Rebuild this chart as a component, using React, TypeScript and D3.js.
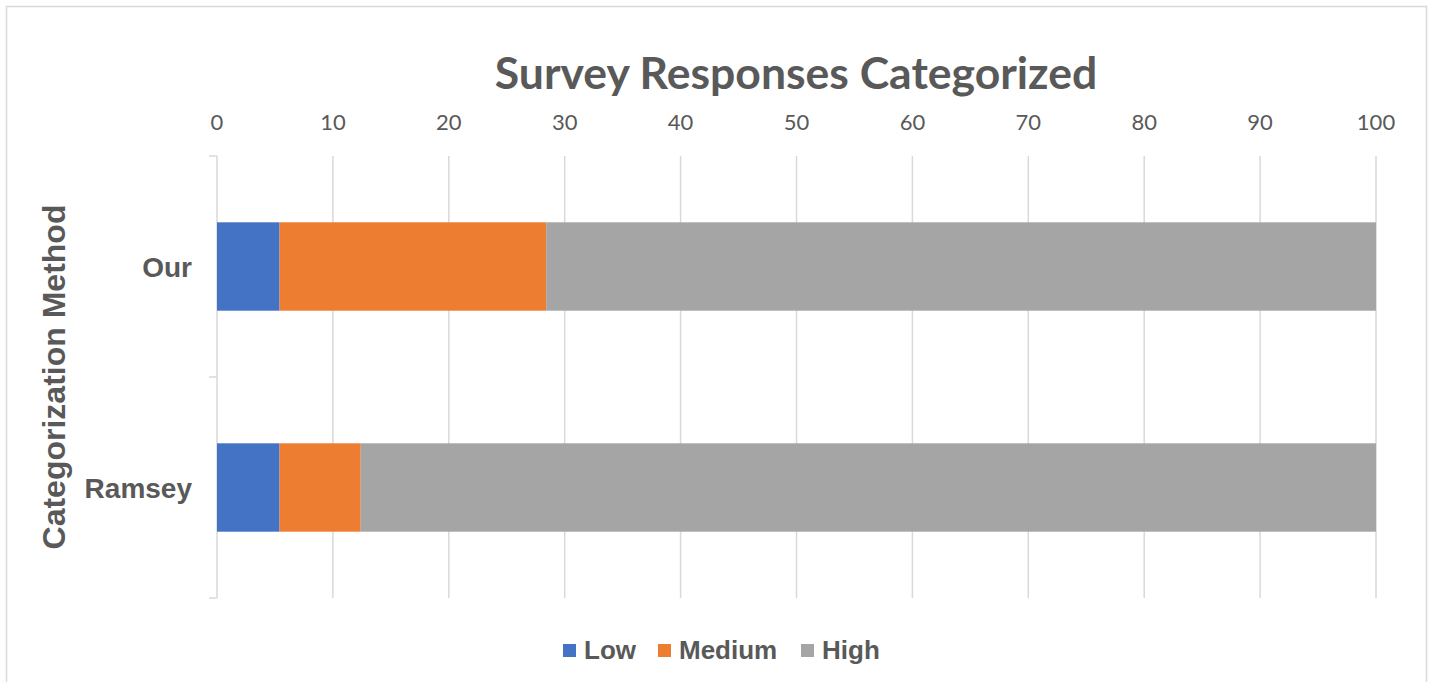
import React, { useEffect, useRef } from 'react';
import * as d3 from 'd3';

const methods = ['Our', 'Ramsey'];
const seriesNames = ['Low', 'Medium', 'High'];
const lowValues = [5.4, 5.4];
const mediumValues = [23.0, 7.0];
const highValues = [71.6, 87.6];
const xTicks = [0, 10, 20, 30, 40, 50, 60, 70, 80, 90, 100];
const seriesColors = ['#4472c4', '#ed7d31', '#a5a5a5'];

export default function App() {
  const svgRef = useRef<SVGSVGElement>(null);

  useEffect(() => {
    if (!svgRef.current) return;
    const svg = d3.select(svgRef.current);
    svg.selectAll('*').remove();

    const textColor = '#595959';
    const gridColor = '#d9d9d9';
    const plot = { left: 217, right: 1376, top: 156, bottom: 598 };

    // chart frame
    svg.append('rect')
      .attr('x', 6.5).attr('y', 6.5)
      .attr('width', 1420).attr('height', 690)
      .attr('fill', '#fff')
      .attr('stroke', gridColor)
      .attr('stroke-width', 1.5);

    const x = d3.scaleLinear().domain([0, 100]).range([plot.left, plot.right]);
    const y = d3.scaleBand<string>().domain(methods).range([plot.top, plot.bottom]).paddingInner(0.6).paddingOuter(0.3);
    const yOuter = d3.scaleBand<string>().domain(methods).range([plot.top, plot.bottom]);

    // gridlines
    svg.append('g')
      .selectAll('line')
      .data(xTicks)
      .join('line')
      .attr('x1', d => x(d)).attr('x2', d => x(d))
      .attr('y1', plot.top).attr('y2', plot.bottom)
      .attr('stroke', gridColor)
      .attr('stroke-width', 1.5);

    // tick labels on top
    svg.append('g')
      .selectAll('text')
      .data(xTicks)
      .join('text')
      .attr('x', d => x(d))
      .attr('y', 130)
      .attr('text-anchor', 'middle')
      .attr('font-family', 'Lato, "Open Sans", sans-serif')
      .attr('font-size', 22)
      .attr('fill', textColor)
      .text(d => d);

    // category axis ticks
    const catTicks = [plot.top, ...methods.map(m => (yOuter(m) as number) + yOuter.bandwidth())];
    svg.append('g')
      .selectAll('line')
      .data(catTicks)
      .join('line')
      .attr('x1', plot.left - 8).attr('x2', plot.left)
      .attr('y1', d => d).attr('y2', d => d)
      .attr('stroke', gridColor)
      .attr('stroke-width', 1.5);

    // stacked bars
    const rows = methods.map((m, i) => ({ method: m, Low: lowValues[i], Medium: mediumValues[i], High: highValues[i] }));
    const stacked = d3.stack<any>().keys(seriesNames)(rows);

    svg.append('g')
      .selectAll('g')
      .data(stacked)
      .join('g')
      .attr('fill', (_, i) => seriesColors[i])
      .selectAll('rect')
      .data(d => d)
      .join('rect')
      .attr('x', d => x(d[0]))
      .attr('width', d => x(d[1]) - x(d[0]))
      .attr('y', d => y(d.data.method) as number)
      .attr('height', y.bandwidth());

    // category labels
    svg.append('g')
      .selectAll('text')
      .data(methods)
      .join('text')
      .attr('x', 192)
      .attr('y', m => (y(m) as number) + y.bandwidth() / 2)
      .attr('dy', '0.36em')
      .attr('text-anchor', 'end')
      .attr('font-family', '"Liberation Sans", Arial, sans-serif')
      .attr('font-weight', 'bold')
      .attr('font-size', 28)
      .attr('fill', textColor)
      .text(m => m);

    // axis title
    svg.append('text')
      .attr('transform', `translate(65,${(plot.top + plot.bottom) / 2}) rotate(-90)`)
      .attr('text-anchor', 'middle')
      .attr('font-family', '"Liberation Sans", Arial, sans-serif')
      .attr('font-weight', 'bold')
      .attr('font-size', 32)
      .attr('fill', textColor)
      .text('Categorization Method');

    // title
    svg.append('text')
      .attr('x', 796)
      .attr('y', 89)
      .attr('text-anchor', 'middle')
      .attr('font-family', 'Lato, "Open Sans", sans-serif')
      .attr('font-weight', 'bold')
      .attr('font-size', 44.5)
      .attr('fill', textColor)
      .text('Survey Responses Categorized');

    // legend
    const legendX = [563, 658, 801];
    const legend = svg.append('g')
      .selectAll('g')
      .data(seriesNames)
      .join('g')
      .attr('transform', (_, i) => `translate(${legendX[i]},644)`);
    legend.append('rect')
      .attr('width', 13).attr('height', 13)
      .attr('fill', (_, i) => seriesColors[i]);
    legend.append('text')
      .attr('x', 21)
      .attr('y', 15)
      .attr('font-family', '"Liberation Sans", Arial, sans-serif')
      .attr('font-weight', 'bold')
      .attr('font-size', 26)
      .attr('fill', textColor)
      .text(d => d);
  }, []);

  return (
    <svg ref={svgRef} width={1432} height={682} style={{ position: 'absolute', left: 0, top: 0, background: '#fff' }} />
  );
}
